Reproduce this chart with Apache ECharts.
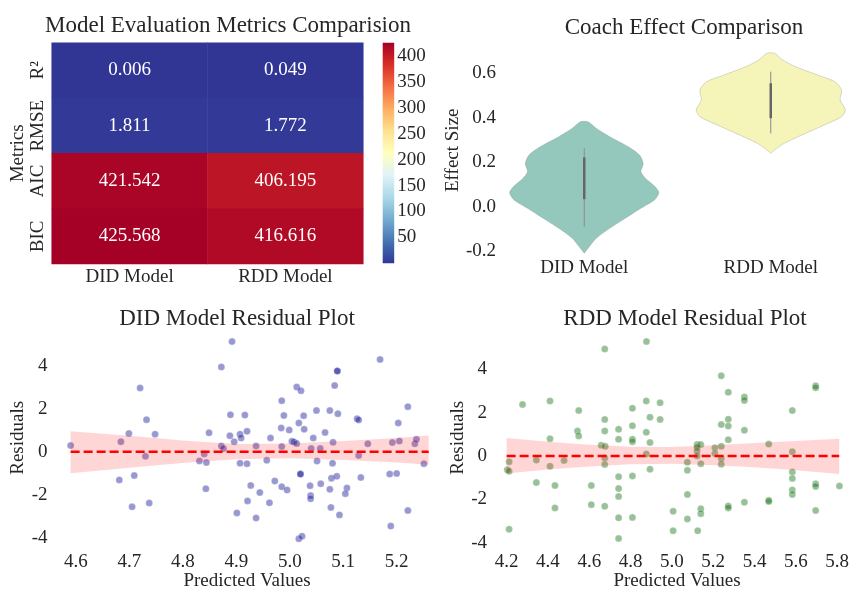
<!DOCTYPE html>
<html>
<head>
<meta charset="utf-8">
<script src="https://cdn.jsdelivr.net/npm/echarts@6/dist/echarts.min.js"></script>
<style>
  html, body { margin: 0; padding: 0; background: #fff; }
  #chart { width: 864px; height: 592px; }
</style>
</head>
<body>
<div id="chart"></div>
<script>
// ---- heatmap data ----
const models = ['DID Model', 'RDD Model'];
const metrics = ['R²', 'RMSE', 'AIC', 'BIC'];
const didMetrics = [0.006, 1.811, 421.542, 425.568];
const rddMetrics = [0.049, 1.772, 406.195, 416.616];
const colorbarTicks = [50, 100, 150, 200, 250, 300, 350, 400];

// ---- violin data (value, relative half width) ----
const violinGroups = ['DID Model', 'RDD Model'];
const didViolin = [
  [0.383, 0.05], [0.354, 0.16], [0.316, 0.34], [0.271, 0.59], [0.234, 0.74],
  [0.196, 0.79], [0.159, 0.76], [0.129, 0.82], [0.091, 0.95], [0.064, 1.0],
  [0.031, 0.94], [-0.006, 0.76], [-0.051, 0.55], [-0.096, 0.34], [-0.141, 0.16],
  [-0.178, 0.07], [-0.208, 0.0]
];
const rddViolin = [
  [0.691, 0.05], [0.661, 0.16], [0.631, 0.33], [0.593, 0.63], [0.563, 0.86],
  [0.526, 0.95], [0.481, 0.93], [0.436, 1.0], [0.406, 0.95], [0.369, 0.72],
  [0.324, 0.42], [0.286, 0.18], [0.256, 0.05], [0.241, 0.0]
];
const didWhisker = [-0.088, 0.264];
const didQuartiles = [0.035, 0.223];
const rddWhisker = [0.331, 0.608];
const rddQuartiles = [0.399, 0.556];
const effectTicks = [-0.2, 0.0, 0.2, 0.4, 0.6];

// ---- residual plots ----
const didResid = [
  [4.590, 0.29], [4.892, 5.13], [4.872, 3.95], [4.720, 2.97], [4.732, 1.49],
  [4.699, 0.85], [4.748, 0.82], [4.684, 0.47], [4.730, -0.21], [4.709, -1.11],
  [4.681, -1.31], [4.705, -2.56], [4.737, -2.39], [4.889, 1.72], [4.849, 0.88],
  [4.888, 0.75], [4.896, 0.47], [4.907, 0.82], [4.909, 0.64], [4.872, 0.27],
  [4.876, 0.15], [4.840, -0.10], [4.831, -0.43], [4.844, -0.50], [4.907, -0.53],
  [4.843, -1.72], [4.901, -2.85], [4.916, 1.71], [4.920, 0.95], [4.937, 0.27],
  [4.920, -0.56], [4.927, -1.57], [4.944, -1.90], [4.921, -2.29], [4.937, -3.08],
  [4.962, -2.38], [4.957, -0.40], [4.964, 0.64], [4.972, -1.36], [4.985, -1.63],
  [4.995, -1.78], [4.985, 0.24], [4.984, 1.11], [4.999, 1.01], [4.989, 1.69],
  [4.985, 2.38], [5.013, 3.02], [5.021, 2.84], [5.004, 0.49], [5.008, 0.46],
  [5.013, 0.38], [5.017, 1.34], [5.026, 1.68], [5.027, 1.05], [5.020, -1.04],
  [5.020, -1.04], [5.017, -4.05], [5.023, -3.93], [5.040, 0.15], [5.044, 0.64],
  [5.050, 1.92], [5.057, 0.15], [5.051, -0.43], [5.038, -1.58], [5.039, -2.04],
  [5.039, -2.19], [5.058, -1.49], [5.066, 0.90], [5.075, 1.92], [5.084, 3.08],
  [5.089, 3.76], [5.089, 3.76], [5.090, 1.77], [5.081, 0.44], [5.080, -0.53],
  [5.078, -1.23], [5.088, -1.14], [5.075, -1.75], [5.077, -2.59], [5.093, -2.94],
  [5.107, -1.69], [5.104, -1.95], [5.126, 1.54], [5.129, 1.48], [5.129, -0.18],
  [5.133, -1.20], [5.146, 0.37], [5.169, 4.30], [5.187, -1.04], [5.200, -1.01],
  [5.192, 0.43], [5.205, 0.50], [5.203, 1.34], [5.221, 2.10], [5.221, -2.74],
  [5.189, -3.46], [5.234, 0.37], [5.237, 0.58], [5.251, -0.56]
];
const rddResid = [
  [4.877, 5.28], [4.675, 4.94], [4.277, 2.38], [4.410, 2.54], [4.549, 2.10],
  [4.675, 1.69], [4.675, 1.16], [4.543, 1.16], [4.549, 0.93], [4.410, 0.80],
  [4.658, 0.50], [4.677, 0.45], [4.742, 1.24], [4.742, 0.78], [4.809, 2.20],
  [4.809, 1.40], [4.809, 0.78], [4.809, 0.66], [4.876, 2.54], [4.894, 1.79],
  [4.876, 1.10], [4.894, 0.62], [4.943, 2.46], [4.943, 1.69], [4.876, 0.10],
  [4.894, -0.61], [4.212, -0.26], [4.203, -0.63], [4.212, -0.70], [4.344, -0.18],
  [4.410, -0.47], [4.478, -0.20], [4.675, -0.09], [4.675, -0.39], [4.344, -1.22],
  [4.434, -1.36], [4.434, -2.39], [4.610, -1.36], [4.610, -2.24], [4.675, -2.31],
  [4.742, -0.95], [4.742, -1.50], [4.742, -1.86], [4.742, -2.85], [4.742, -3.80],
  [4.809, -0.92], [4.809, -2.83], [4.212, -3.38],
  [5.239, 3.70], [5.273, 2.94], [5.351, 2.72], [5.351, 2.56], [5.273, 1.70],
  [5.273, 1.39], [5.239, 1.45], [5.273, 0.75], [5.351, 1.19], [5.583, 2.10],
  [5.696, 3.24], [5.696, 3.15], [5.122, 0.53], [5.140, 0.53], [5.122, 0.41],
  [5.122, 0.23], [5.122, 0.00], [5.208, 0.38], [5.239, 0.45], [5.208, 0.12],
  [5.239, -0.11], [5.239, -0.38], [5.469, 0.56], [5.583, 0.20], [5.075, -0.29],
  [5.075, -0.65], [5.140, -0.36], [5.583, -0.73], [5.583, -1.03], [5.583, -1.56],
  [5.583, -1.77], [5.696, -1.28], [5.696, -1.40], [5.811, -1.38], [5.075, -1.77],
  [5.006, -2.55], [5.140, -2.43], [5.140, -2.66], [5.075, -2.90], [5.273, -2.30],
  [5.273, -2.39], [5.351, -2.13], [5.469, -2.04], [5.469, -2.10], [5.696, -2.51],
  [5.006, -3.44], [5.125, -3.44]
];
// confidence band of the fit (x, lower, upper)
const didBand = [
  [4.59, -1.00, 0.95], [4.70, -0.75, 0.74], [4.80, -0.52, 0.53], [4.90, -0.35, 0.36],
  [5.00, -0.30, 0.38], [5.10, -0.38, 0.50], [5.20, -0.50, 0.64], [5.26, -0.61, 0.76]
];
const rddBand = [
  [4.20, -0.80, 0.83], [4.40, -0.62, 0.66], [4.60, -0.48, 0.52], [4.80, -0.38, 0.43],
  [5.00, -0.36, 0.42], [5.20, -0.42, 0.50], [5.40, -0.52, 0.60], [5.60, -0.65, 0.70],
  [5.81, -0.83, 0.80]
];
const didZeroLine = [[4.59, 0], [5.26, 0]];
const rddZeroLine = [[4.20, 0], [5.81, 0]];
const didXTicks = [4.6, 4.7, 4.8, 4.9, 5.0, 5.1, 5.2];
const rddXTicks = [4.2, 4.4, 4.6, 4.8, 5.0, 5.2, 5.4, 5.6, 5.8];
const residTicks = [-4, -2, 0, 2, 4];

// RdYlBu_r
const rdylbu = ['#313695', '#4575b4', '#74add1', '#abd9e9', '#e0f3f8', '#ffffbf',
  '#fee090', '#fdae61', '#f46d43', '#d73027', '#a50026'];

const FONT = "'Liberation Serif', 'Times New Roman', serif";
const INK = '#262626';
const labelStyle = { fontFamily: FONT, fontSize: 19, color: INK };
const noLine = { show: false };

const heatData = [];
models.forEach((m, i) => {
  const vals = i === 0 ? didMetrics : rddMetrics;
  vals.forEach((v, j) => heatData.push([i, j, v]));
});
const allMetrics = didMetrics.concat(rddMetrics);
const cMin = Math.min(...allMetrics);
const cMax = Math.max(...allMetrics);

function titleAt(text, x, y) {
  return {
    text, left: x, top: y, textAlign: 'center',
    textStyle: { fontFamily: FONT, fontSize: 23, fontWeight: 'normal', color: INK }
  };
}

function valueAxis(grid, min, max, ticks, fmt, extra) {
  return Object.assign({
    type: 'value', gridIndex: grid, min, max,
    axisLine: noLine, axisTick: noLine, splitLine: noLine,
    axisLabel: Object.assign({ customValues: ticks, formatter: fmt }, labelStyle),
    nameTextStyle: labelStyle
  }, extra || {});
}

function violinItem(params, api) {
  const i = params.dataIndex;
  const prof = i === 0 ? didViolin : rddViolin;
  const whisker = i === 0 ? didWhisker : rddWhisker;
  const quart = i === 0 ? didQuartiles : rddQuartiles;
  const half = api.size([1, 0])[0] * 0.4;
  const cx = api.coord([i, 0])[0];
  const left = prof.map(p => [cx - p[1] * half, api.coord([i, p[0]])[1]]);
  const right = prof.slice().reverse().map(p => [cx + p[1] * half, api.coord([i, p[0]])[1]]);
  const fill = i === 0 ? '#95c8bd' : '#f5f5b9';
  return {
    type: 'group',
    children: [
      { type: 'polygon', shape: { points: left.concat(right), smooth: 0.25 },
        style: { fill, stroke: 'rgba(110,110,110,0.25)', lineWidth: 1 } },
      { type: 'line', shape: { x1: cx, y1: api.coord([i, whisker[0]])[1], x2: cx, y2: api.coord([i, whisker[1]])[1] },
        style: { stroke: '#8a8a8a', lineWidth: 1 } },
      { type: 'line', shape: { x1: cx, y1: api.coord([i, quart[0]])[1], x2: cx, y2: api.coord([i, quart[1]])[1] },
        style: { stroke: '#666', lineWidth: 2.5 } }
    ]
  };
}

function bandItem(band) {
  return function (params, api) {
    const up = band.map(b => api.coord([b[0], b[2]]));
    const low = band.slice().reverse().map(b => api.coord([b[0], b[1]]));
    return { type: 'polygon', shape: { points: up.concat(low) },
      style: { fill: 'rgba(255,0,0,0.16)' } };
  };
}

const option = {
  backgroundColor: '#fff',
  animation: false,
  title: [
    titleAt('Model Evaluation Metrics Comparision', 223, 9),
    titleAt('Coach Effect Comparison', 679, 11),
    titleAt('DID Model Residual Plot', 232, 302),
    titleAt('RDD Model Residual Plot', 680, 302)
  ],
  grid: [
    { left: 51.7, top: 42.7, width: 311.6, height: 221.3 },
    { left: 382.7, top: 42.7, width: 11.5, height: 220.6 },
    { left: 491, right: -15, top: 46.8, bottom: 338.3 },
    { left: 54.6, right: 424.6, top: 331.5, bottom: 43.9 },
    { left: 490.1, right: -23.4, top: 331.6, bottom: 44.1 }
  ],
  visualMap: {
    show: false, seriesIndex: 0, dimension: 2, min: cMin, max: cMax,
    inRange: { color: rdylbu }
  },
  xAxis: [
    { type: 'category', gridIndex: 0, data: models, axisLine: noLine, axisTick: noLine,
      axisLabel: Object.assign({ margin: 4, interval: 0 }, labelStyle) },
    { type: 'category', gridIndex: 1, data: [''], show: false },
    { type: 'category', gridIndex: 2, data: violinGroups, axisLine: noLine, axisTick: noLine,
      axisLabel: Object.assign({ margin: 5, interval: 0 }, labelStyle) },
    valueAxis(3, 4.56, 5.28, didXTicks, v => v.toFixed(1), {
      name: 'Predicted Values', nameLocation: 'middle', nameGap: 26 }),
    valueAxis(4, 4.12, 5.93, rddXTicks, v => v.toFixed(1), {
      name: 'Predicted Values', nameLocation: 'middle', nameGap: 26 })
  ],
  yAxis: [
    { type: 'category', gridIndex: 0, data: metrics, inverse: true,
      axisLine: noLine, axisTick: noLine,
      axisLabel: Object.assign({ rotate: 90, margin: 4, interval: 0 }, labelStyle),
      name: 'Metrics', nameLocation: 'middle', nameGap: 20, nameRotate: 90, nameTextStyle: labelStyle },
    valueAxis(1, 0, cMax, colorbarTicks, v => String(v), {
      position: 'right', axisLabel: Object.assign({ customValues: colorbarTicks, margin: 3 }, labelStyle) }),
    valueAxis(2, -0.21, 0.72, effectTicks, v => v.toFixed(1), {
      name: 'Effect Size', nameLocation: 'middle', nameGap: 26,
      axisLabel: Object.assign({ customValues: effectTicks, formatter: v => v.toFixed(1), margin: -5 }, labelStyle) }),
    valueAxis(3, -4.3, 5.6, residTicks, v => String(v), {
      name: 'Residuals', nameLocation: 'middle', nameGap: 25,
      axisLabel: Object.assign({ customValues: residTicks, margin: 7 }, labelStyle) }),
    valueAxis(4, -4.06, 5.74, residTicks, v => String(v), {
      name: 'Residuals', nameLocation: 'middle', nameGap: 19,
      axisLabel: Object.assign({ customValues: residTicks, margin: 3 }, labelStyle) })
  ],
  series: [
    {
      type: 'heatmap', xAxisIndex: 0, yAxisIndex: 0, data: heatData,
      label: { show: true, formatter: p => p.value[2].toFixed(3),
        fontFamily: FONT, fontSize: 19, color: '#fff' },
      itemStyle: { borderWidth: 0 }
    },
    {
      type: 'bar', xAxisIndex: 1, yAxisIndex: 1, data: [cMax], barWidth: '100%', silent: true,
      itemStyle: {
        color: {
          type: 'linear', x: 0, y: 0, x2: 0, y2: 1,
          colorStops: rdylbu.slice().reverse().map((c, i) => ({ offset: i / 10, color: c }))
        }
      }
    },
    {
      type: 'custom', xAxisIndex: 2, yAxisIndex: 2,
      data: violinGroups.map((g, i) => [i, 0]),
      renderItem: violinItem
    },
    {
      type: 'scatter', xAxisIndex: 3, yAxisIndex: 3, data: didResid, symbolSize: 7,
      itemStyle: { color: 'rgba(0,0,139,0.5)', borderColor: 'rgba(255,255,255,0.6)', borderWidth: 0.5 }
    },
    {
      type: 'custom', xAxisIndex: 3, yAxisIndex: 3, data: [[4.59, 0]],
      renderItem: bandItem(didBand), z: 3
    },
    {
      type: 'line', xAxisIndex: 3, yAxisIndex: 3, data: didZeroLine, symbol: 'none', z: 4,
      lineStyle: { color: '#ff0000', width: 2.5, type: [9, 4] }
    },
    {
      type: 'scatter', xAxisIndex: 4, yAxisIndex: 4, data: rddResid, symbolSize: 7,
      itemStyle: { color: 'rgba(0,100,0,0.5)', borderColor: 'rgba(255,255,255,0.6)', borderWidth: 0.5 }
    },
    {
      type: 'custom', xAxisIndex: 4, yAxisIndex: 4, data: [[4.2, 0]],
      renderItem: bandItem(rddBand), z: 3
    },
    {
      type: 'line', xAxisIndex: 4, yAxisIndex: 4, data: rddZeroLine, symbol: 'none', z: 4,
      lineStyle: { color: '#ff0000', width: 2.5, type: [9, 4] }
    }
  ]
};

const chart = echarts.init(document.getElementById('chart'), null, { renderer: 'canvas' });
chart.setOption(option);
</script>
</body>
</html>
